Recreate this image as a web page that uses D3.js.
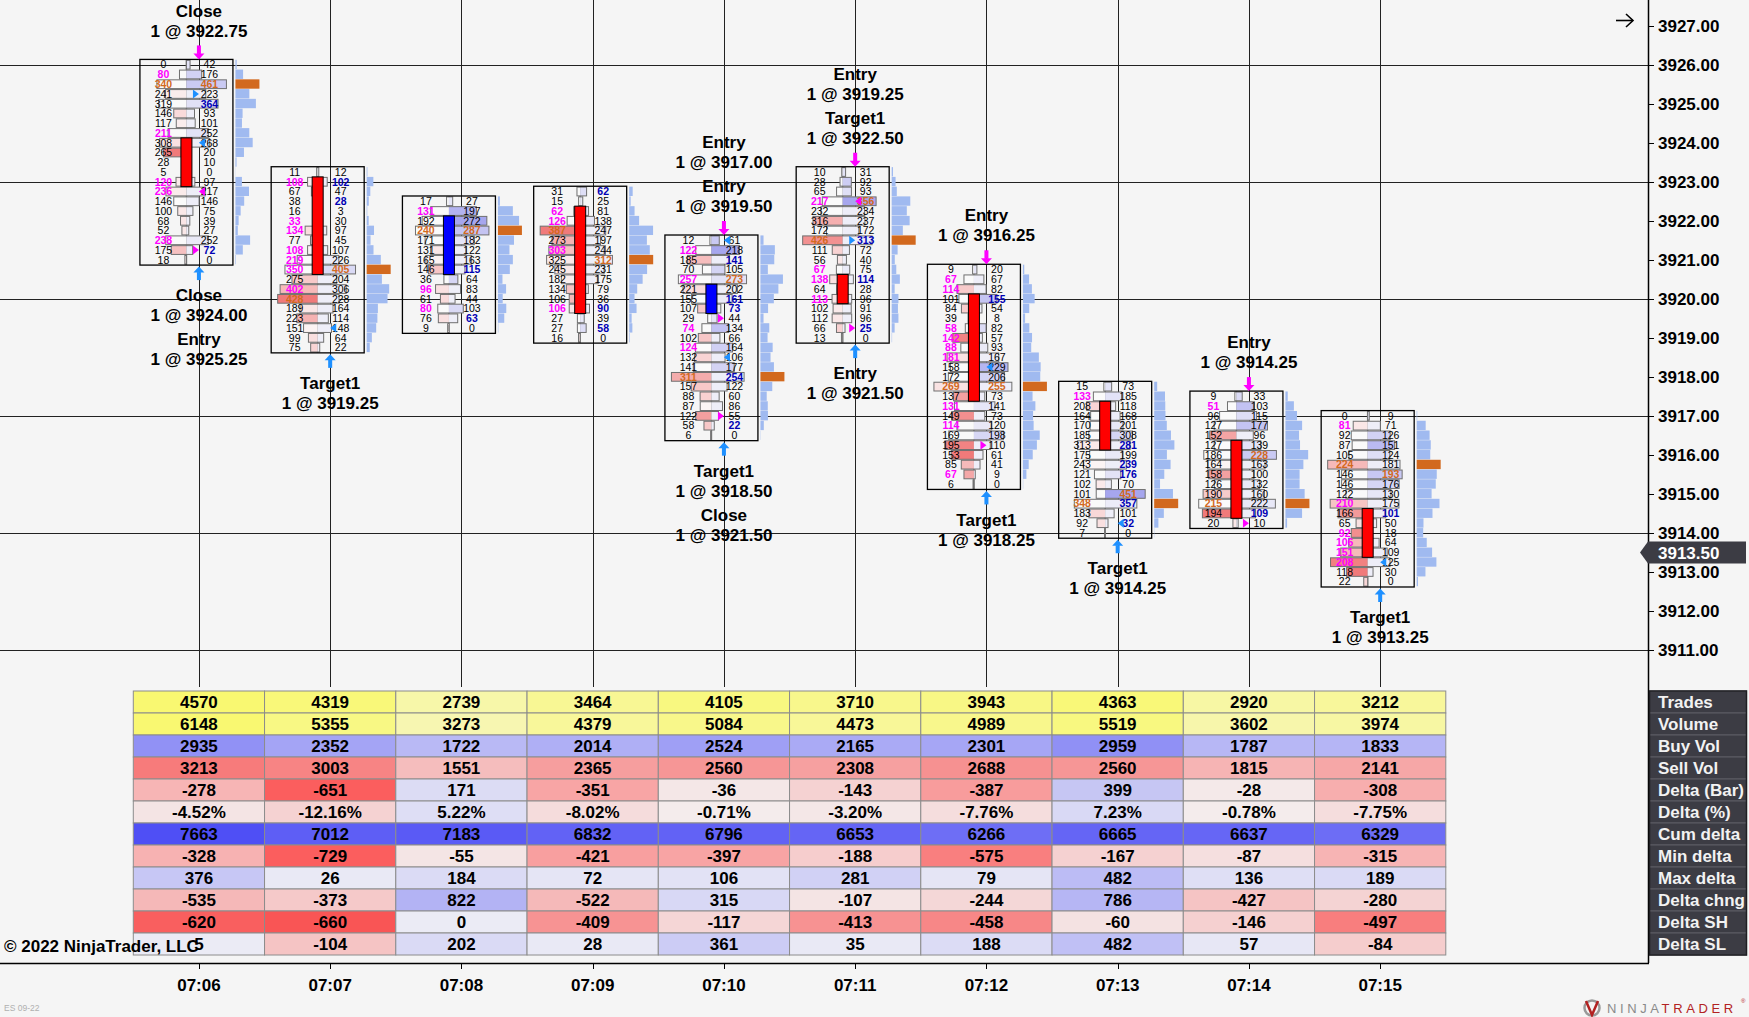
<!DOCTYPE html>
<html>
<head>
<meta charset="utf-8">
<script src="https://cdn.jsdelivr.net/npm/d3@7"></script>
<style>
  body { margin: 0; background: #f5f5f5; }
  svg { display: block; font-family: "Liberation Sans", Arial, sans-serif; }
</style>
</head>
<body>
<svg id="chart" width="1749" height="1017"></svg>
<script>
// ---------------- DATA ----------------
const times  = ["07:06","07:07","07:08","07:09","07:10","07:11","07:12","07:13","07:14","07:15"];
const highs  = [3926.00, 3923.25, 3922.50, 3922.75, 3921.50, 3923.25, 3920.75, 3917.75, 3917.50, 3917.00];
const lows   = [3921.00, 3918.75, 3919.25, 3919.00, 3916.50, 3919.00, 3915.25, 3914.00, 3914.25, 3912.75];
const opens  = [3924.00, 3923.00, 3920.75, 3922.25, 3919.75, 3920.50, 3920.00, 3917.25, 3916.25, 3914.50];
const closes = [3923.00, 3920.75, 3922.00, 3919.75, 3920.25, 3920.00, 3917.50, 3916.25, 3914.50, 3913.50];

// bid / ask volume per price level, from the bar high downwards in 0.25 steps
const bid_0706 = [0,80,340,241,319,146,117,211,308,265,28,5,120,236,146,100,68,52,238,175,18];
const ask_0706 = [42,176,461,223,364,93,101,252,268,20,10,0,97,217,146,75,39,27,252,72,0];
const bid_0707 = [11,108,67,38,16,33,134,77,108,219,350,275,402,428,189,223,151,99,75];
const ask_0707 = [12,102,47,28,3,30,97,45,107,226,405,204,306,228,164,114,148,64,22];
const bid_0708 = [17,131,192,240,171,131,165,146,36,96,61,80,76,9];
const ask_0708 = [27,197,272,287,182,122,163,115,64,83,44,103,63,0];
const bid_0709 = [31,15,62,126,387,273,303,325,245,182,134,106,106,27,27,16];
const ask_0709 = [62,25,81,138,247,197,244,312,231,175,79,36,90,39,58,0];
const bid_0710 = [12,122,185,70,257,221,155,107,29,74,102,124,132,141,311,157,88,87,122,58,6];
const ask_0710 = [61,218,141,105,273,202,161,73,44,134,66,164,106,177,254,122,60,86,55,22,0];
const bid_0711 = [10,28,65,217,232,316,172,426,111,56,67,138,64,113,102,112,66,13];
const ask_0711 = [31,92,93,356,234,237,172,313,72,40,75,114,28,96,91,96,25,0];
const bid_0712 = [9,67,114,101,84,39,58,142,88,181,158,172,269,137,131,149,114,169,195,153,85,67,6];
const ask_0712 = [20,67,82,155,54,8,82,57,93,167,229,206,255,73,141,73,120,198,110,61,41,9,0];
const bid_0713 = [15,133,208,164,170,185,313,175,243,121,102,101,348,183,92,7];
const ask_0713 = [73,185,118,168,201,308,281,199,239,176,70,451,357,101,32,0];
const bid_0714 = [9,51,96,127,152,127,186,164,158,126,190,215,194,20];
const ask_0714 = [33,103,115,177,96,139,228,163,100,132,160,222,109,10];
const bid_0715 = [0,81,92,87,105,224,146,146,122,210,166,65,92,106,151,208,118,22];
const ask_0715 = [9,71,126,151,124,181,193,176,130,175,101,50,18,64,109,125,30,0];

// trade executions
const execTime    = ["07:06","07:06","07:06","07:06","07:07","07:10","07:10","07:10","07:10","07:11","07:11","07:11","07:12","07:12","07:13","07:14","07:15"];
const execPrice   = [3922.75,3921.25,3924.00,3925.25,3919.25,3917.00,3919.50,3918.50,3921.50,3919.25,3922.50,3921.50,3916.25,3918.25,3914.25,3914.25,3913.25];
const execSide    = ["sell","sell","buy","buy","buy","sell","sell","buy","buy","sell","sell","buy","sell","buy","buy","sell","buy"];
const execKind    = ["Close","Entry","Close","Entry","Target1","Entry","Entry","Target1","Close","Entry","Target1","Entry","Entry","Target1","Target1","Entry","Target1"];
const execLabeled = [true,false,true,true,true,true,true,true,true,true,true,true,true,true,true,true,true];

// summary table
const rowNames  = ["Trades","Volume","Buy Vol","Sell Vol","Delta (Bar)","Delta (%)","Cum delta","Min delta","Max delta","Delta chng","Delta SH","Delta SL"];
const trades    = [4570,4319,2739,3464,4105,3710,3943,4363,2920,3212];
const volume    = [6148,5355,3273,4379,5084,4473,4989,5519,3602,3974];
const buyVol    = [2935,2352,1722,2014,2524,2165,2301,2959,1787,1833];
const sellVol   = [3213,3003,1551,2365,2560,2308,2688,2560,1815,2141];
const deltaBar  = [-278,-651,171,-351,-36,-143,-387,399,-28,-308];
const deltaPct  = [-4.52,-12.16,5.22,-8.02,-0.71,-3.20,-7.76,7.23,-0.78,-7.75];
const cumDelta  = [7663,7012,7183,6832,6796,6653,6266,6665,6637,6329];
const minDelta  = [-328,-729,-55,-421,-397,-188,-575,-167,-87,-315];
const maxDelta  = [376,26,184,72,106,281,79,482,136,189];
const deltaChng = [-535,-373,822,-522,315,-107,-244,786,-427,-280];
const deltaSH   = [-620,-660,0,-409,-117,-413,-458,-60,-146,-497];
const deltaSL   = [5,-104,202,28,361,35,188,482,57,-84];

const priceTicks = [3911,3912,3913,3914,3915,3916,3917,3918,3919,3920,3921,3922,3923,3924,3925,3926,3927];
const gridPrices = [3911,3914,3917,3920,3923,3926];
const lastPrice = 3913.50;

// ---------------- LAYOUT ----------------
const W = 1749, H = 1017;
const axisX = 1648, bottomY = 963, tableTop = 691, tRowH = 22;
const tickSize = 0.25;
const svg = d3.select("#chart");

const x = d3.scaleBand().domain(times).range([133.3, 1445.8]).padding(0);
const cxOf = t => x(t) + x.bandwidth() / 2;
const y = d3.scaleLinear().domain([3926, 3911]).range([64.7, 650]);
const rh = y(3926 - tickSize) - y(3926);

const bidLists = [bid_0706,bid_0707,bid_0708,bid_0709,bid_0710,bid_0711,bid_0712,bid_0713,bid_0714,bid_0715];
const askLists = [ask_0706,ask_0707,ask_0708,ask_0709,ask_0710,ask_0711,ask_0712,ask_0713,ask_0714,ask_0715];

const execs = execTime.map((t, i) => ({t, price: execPrice[i], side: execSide[i], kind: execKind[i], labeled: execLabeled[i]}));

svg.append("rect").attr("width", W).attr("height", H).attr("fill", "#f5f5f5");

// grid
svg.append("g").selectAll("line").data(gridPrices).join("line")
  .attr("x1", 0).attr("x2", axisX)
  .attr("y1", d => Math.round(y(d)) + 0.5).attr("y2", d => Math.round(y(d)) + 0.5)
  .attr("stroke", "#222").attr("stroke-width", 1);
svg.append("g").selectAll("line").data(times).join("line")
  .attr("x1", d => Math.round(cxOf(d)) + 0.5).attr("x2", d => Math.round(cxOf(d)) + 0.5)
  .attr("y1", 0).attr("y2", 687)
  .attr("stroke", "#222").attr("stroke-width", 1);

const MAG = "#ff00ff", BUYC = "#1e90ff", ORANGE = "#d2691e", ASKBLUE = "#0000b4";

times.forEach((t, i) => {
  const bids = bidLists[i], asks = askLists[i];
  const n = bids.length;
  const high = highs[i], low = lows[i], open = opens[i], close = closes[i];
  const cx = cxOf(t), cc = cx - 12.5;
  const rows = bids.map((b, k) => ({p: high - k * tickSize, bid: b, ask: asks[k], d: asks[k] - b, tot: b + asks[k], k}));
  const maxSide = d3.max(bids.concat(asks));
  const maxAbsD = d3.max(rows, r => Math.abs(r.d));
  const maxTot = d3.max(rows, r => r.tot);
  const maxBid = d3.max(bids), maxAsk = d3.max(asks);
  const hw = d3.scaleLinear().domain([0, maxSide]).range([0, 40]);
  const pw = d3.scaleLinear().domain([0, maxTot]).range([0, 24]);
  const boxTop = y(high) - rh / 2 - 0.4, boxBot = y(low) + rh / 2 + 0.4;
  const g = svg.append("g");

  // wick
  g.append("line").attr("x1", cc).attr("x2", cc)
    .attr("y1", y(high) - rh / 2).attr("y2", y(low) + rh / 2)
    .attr("stroke", "#777").attr("stroke-width", 1.5);

  const redI = d3.interpolateRgb("#fbf5f5", "#f07a7a");
  const bluI = d3.interpolateRgb("#eeeef8", "#a6a6ee");
  // left (bid) part
  g.selectAll(".lf").data(rows.filter(r => r.bid > 0)).join("rect")
    .attr("x", r => cc - hw(r.bid)).attr("y", r => y(r.p) - rh / 2 + 0.5)
    .attr("width", r => hw(r.bid)).attr("height", rh - 1)
    .attr("fill", r => r.d < 0 ? redI(-r.d / maxAbsD) : "#fafafa");
  // right (ask) part
  g.selectAll(".rt").data(rows.filter(r => r.ask > 0)).join("rect")
    .attr("x", cc).attr("y", r => y(r.p) - rh / 2 + 0.5)
    .attr("width", r => hw(r.ask)).attr("height", rh - 1)
    .attr("fill", r => r.d > 0 ? bluI(r.d / maxAbsD) : "#eeeef8");
  // outline
  g.selectAll(".ol").data(rows.filter(r => r.tot > 0)).join("rect")
    .attr("x", r => cc - hw(r.bid)).attr("y", r => y(r.p) - rh / 2 + 0.5)
    .attr("width", r => hw(r.bid) + hw(r.ask)).attr("height", rh - 1)
    .attr("fill", "none").attr("stroke", "#707070").attr("stroke-width", 1);

  // bar box
  g.append("rect").attr("x", cx - 59).attr("y", boxTop).attr("width", 93).attr("height", boxBot - boxTop)
    .attr("fill", "none").attr("stroke", "#000").attr("stroke-width", 1.3);

  // candle body
  const bTop = y(Math.max(open, close)) - rh / 2, bBot = y(Math.min(open, close)) + rh / 2;
  g.append("rect").attr("x", cc - 5.5).attr("y", bTop).attr("width", 11).attr("height", bBot - bTop)
    .attr("fill", close > open ? "#0000ff" : "#ff0000").attr("stroke", "#000").attr("stroke-width", 1);

  // numbers
  const bidColor = r => {
    if (r.bid === maxBid) return ORANGE;
    if (r.k > 0 && r.bid >= 20 && r.bid >= 1.5 * rows[r.k - 1].ask) return MAG;
    return "#000";
  };
  const askColor = r => {
    if (r.ask === maxAsk) return ORANGE;
    if (r.k < n - 1 && r.ask >= 20 && r.ask >= 1.5 * rows[r.k + 1].bid) return ASKBLUE;
    return "#000";
  };
  g.selectAll(".bt").data(rows).join("text")
    .attr("x", cx - 35.5).attr("y", r => y(r.p)).attr("dy", "0.36em")
    .attr("text-anchor", "middle").attr("font-size", "10.5px")
    .attr("fill", bidColor).attr("font-weight", r => bidColor(r) === "#000" ? "normal" : "bold")
    .text(r => r.bid);
  g.selectAll(".at").data(rows).join("text")
    .attr("x", cx + 10.5).attr("y", r => y(r.p)).attr("dy", "0.36em")
    .attr("text-anchor", "middle").attr("font-size", "10.5px")
    .attr("fill", askColor).attr("font-weight", r => askColor(r) === "#000" ? "normal" : "bold")
    .text(r => r.ask);

  // volume profile
  g.selectAll(".pf").data(rows).join("rect")
    .attr("x", cx + 36.5).attr("y", r => y(r.p) - rh / 2)
    .attr("width", r => pw(r.tot)).attr("height", rh - 0.4)
    .attr("fill", r => r.tot === maxTot ? ORANGE : "#a0baf0");

  // executions: triangles
  const ex = execs.filter(e => e.t === t);
  g.selectAll(".tri").data(ex).join("path")
    .attr("d", e => {
      const yy = y(e.price);
      return e.kind === "Entry"
        ? `M${cx - 6},${yy - 4.5}L${cx},${yy}L${cx - 6},${yy + 4.5}Z`
        : `M${cx + 6},${yy - 4.5}L${cx},${yy}L${cx + 6},${yy + 4.5}Z`;
    })
    .attr("fill", e => e.side === "sell" ? MAG : BUYC);

  const sells = ex.filter(e => e.side === "sell");
  const buys = ex.filter(e => e.side === "buy");
  if (sells.length) {
    g.append("rect").attr("x", cx - 2).attr("y", boxTop - 14).attr("width", 4).attr("height", 8.5).attr("fill", MAG);
    g.append("path").attr("d", `M${cx - 5.5},${boxTop - 6}L${cx + 5.5},${boxTop - 6}L${cx},${boxTop}Z`).attr("fill", MAG);
  }
  if (buys.length) {
    g.append("rect").attr("x", cx - 2).attr("y", boxBot + 7).attr("width", 4).attr("height", 8).attr("fill", BUYC);
    g.append("path").attr("d", `M${cx - 5.5},${boxBot + 7.5}L${cx + 5.5},${boxBot + 7.5}L${cx},${boxBot + 1.5}Z`).attr("fill", BUYC);
  }
  const lab = (txt, yy) => g.append("text").attr("x", cx).attr("y", yy).attr("dy", "0.36em")
    .attr("text-anchor", "middle").attr("font-size", "17px").attr("font-weight", "bold").attr("fill", "#000").text(txt);
  const ls = sells.filter(e => e.labeled);
  ls.forEach((e, j) => {
    const y2 = boxTop - 29 - (ls.length - 1 - j) * 44;
    lab(e.kind, y2 - 20);
    lab(`1 @ ${e.price.toFixed(2)}`, y2);
  });
  const lb = buys.filter(e => e.labeled);
  lb.forEach((e, j) => {
    const y1 = boxBot + 30 + j * 44;
    lab(e.kind, y1);
    lab(`1 @ ${e.price.toFixed(2)}`, y1 + 20);
  });
});

// ---------------- PRICE AXIS ----------------
svg.append("line").attr("x1", axisX + 0.5).attr("x2", axisX + 0.5).attr("y1", 0).attr("y2", bottomY)
  .attr("stroke", "#000").attr("stroke-width", 1.5);
const ay = svg.append("g");
ay.selectAll("line").data(priceTicks).join("line")
  .attr("x1", axisX).attr("x2", axisX + 6)
  .attr("y1", d => Math.round(y(d)) + 0.5).attr("y2", d => Math.round(y(d)) + 0.5)
  .attr("stroke", "#000");
ay.selectAll("text").data(priceTicks).join("text")
  .attr("x", axisX + 10).attr("y", d => y(d)).attr("dy", "0.36em")
  .attr("font-size", "17px").attr("font-weight", "bold").attr("fill", "#000")
  .text(d => d.toFixed(2));

// current price tag
const ly = y(lastPrice);
svg.append("path")
  .attr("d", `M${axisX - 8},${ly}L${axisX},${ly - 11}L1746,${ly - 11}L1746,${ly + 11}L${axisX},${ly + 11}Z`)
  .attr("fill", "#3c3c44");
svg.append("text").attr("x", axisX + 10).attr("y", ly).attr("dy", "0.36em")
  .attr("font-size", "17px").attr("font-weight", "bold").attr("fill", "#ffffff").text(lastPrice.toFixed(2));

// top-right arrow
svg.append("line").attr("x1", 1616).attr("x2", 1633).attr("y1", 20.5).attr("y2", 20.5).attr("stroke", "#000").attr("stroke-width", 1.6);
svg.append("path").attr("d", "M1626,14L1633,20.5L1626,27").attr("fill", "none").attr("stroke", "#000").attr("stroke-width", 1.6);

// ---------------- TABLE ----------------
const tableData = [trades, volume, buyVol, sellVol, deltaBar, deltaPct, cumDelta, minDelta, maxDelta, deltaChng, deltaSH, deltaSL];
const YEL = "#f9f871";
const rowStyle = [
  {mode: "yellow", pos: YEL}, {mode: "yellow", pos: YEL},
  {mode: "div", pos: "#9090f5"}, {mode: "red", neg: "#f77b7b"},
  {mode: "div", neg: "#fb5e5e", pos: "#c6c6f3"}, {mode: "div", neg: "#f5d2d2", pos: "#d9d9f5"},
  {mode: "div", pos: "#4f4ff5"}, {mode: "div", neg: "#fb5e5e", pos: "#c6c6f3"},
  {mode: "div", pos: "#bcbcf5"}, {mode: "div", neg: "#f5b8b8", pos: "#b3b3f4"},
  {mode: "div", neg: "#f95555", pos: "#c6c6f3"}, {mode: "div", neg: "#f5c4c4", pos: "#c0c0f5"}
];
const redBase = "#f4eded", bluBase = "#ebebf5", yelBase = "#f5f5e4";
function cellColor(v, r) {
  const vals = tableData[r], st = rowStyle[r];
  if (st.mode === "yellow") {
    const t = Math.pow(v / d3.max(vals), 1.3);
    return d3.interpolateRgb(yelBase, st.pos)(t);
  }
  if (st.mode === "red") {
    const t = Math.pow(v / d3.max(vals), 1.2);
    return d3.interpolateRgb(redBase, st.neg)(t);
  }
  if (v < 0) {
    const m = d3.max(vals.filter(d => d < 0), d => -d);
    return d3.interpolateRgb(redBase, st.neg)(Math.pow(-v / m, 1.1));
  }
  const pv = vals.filter(d => d > 0);
  if (!pv.length || v === 0) return bluBase;
  return d3.interpolateRgb(bluBase, st.pos)(Math.pow(v / d3.max(pv), 1.1));
}
const fmt = (v, r) => r === 5 ? v.toFixed(2) + "%" : String(v);
const tg = svg.append("g");
tableData.forEach((vals, r) => {
  const cells = vals.map((v, c) => ({v, t: times[c]}));
  tg.append("g").selectAll("rect").data(cells).join("rect")
    .attr("x", d => x(d.t)).attr("y", tableTop + r * tRowH)
    .attr("width", x.bandwidth()).attr("height", tRowH)
    .attr("fill", d => cellColor(d.v, r)).attr("stroke", "#8c8c8c").attr("stroke-width", 1);
  tg.append("g").selectAll("text").data(cells).join("text")
    .attr("x", d => cxOf(d.t)).attr("y", tableTop + r * tRowH + tRowH / 2).attr("dy", "0.36em")
    .attr("text-anchor", "middle").attr("font-size", "17px").attr("font-weight", "bold").attr("fill", "#000")
    .text(d => fmt(d.v, r));
});

// row labels on the right
const lg = svg.append("g");
lg.selectAll("rect").data(rowNames).join("rect")
  .attr("x", 1649.5).attr("y", (d, i) => tableTop + i * tRowH).attr("width", 97).attr("height", tRowH)
  .attr("fill", "#3c3c44").attr("stroke", "#5c5c64").attr("stroke-width", 1);
lg.append("rect").attr("x", 1649.5).attr("y", tableTop).attr("width", 97).attr("height", tRowH * rowNames.length)
  .attr("fill", "none").attr("stroke", "#1e1e22").attr("stroke-width", 1.5);
lg.selectAll("text").data(rowNames).join("text")
  .attr("x", 1658).attr("y", (d, i) => tableTop + i * tRowH + tRowH / 2).attr("dy", "0.36em")
  .attr("font-size", "17px").attr("font-weight", "bold").attr("fill", "#f2f2f2").text(d => d);

// ---------------- TIME AXIS ----------------
svg.append("line").attr("x1", 0).attr("x2", axisX + 1).attr("y1", bottomY + 0.5).attr("y2", bottomY + 0.5)
  .attr("stroke", "#000").attr("stroke-width", 1.5);
const tx = svg.append("g");
tx.selectAll("line").data(times).join("line")
  .attr("x1", d => Math.round(cxOf(d)) + 0.5).attr("x2", d => Math.round(cxOf(d)) + 0.5)
  .attr("y1", bottomY).attr("y2", bottomY + 6).attr("stroke", "#000");
tx.selectAll("text").data(times).join("text")
  .attr("x", d => cxOf(d)).attr("y", 985).attr("dy", "0.36em")
  .attr("text-anchor", "middle").attr("font-size", "17px").attr("font-weight", "bold").attr("fill", "#000")
  .text(d => d);

// ---------------- FOOTER ----------------
svg.append("text").attr("x", 4).attr("y", 946).attr("dy", "0.36em")
  .attr("font-size", "17px").attr("font-weight", "bold").attr("fill", "#000")
  .text("\u00A9 2022 NinjaTrader, LLC");
svg.append("text").attr("x", 4).attr("y", 1008).attr("dy", "0.36em")
  .attr("font-size", "8.5px").attr("fill", "#b0b0b0").text("ES 09-22");

const logo = svg.append("g");
logo.append("circle").attr("cx", 1592).attr("cy", 1008).attr("r", 7.5).attr("fill", "none").attr("stroke", "#999").attr("stroke-width", 2.5);
logo.append("path").attr("d", "M1586,1001 L1592,1015 L1598,1001").attr("fill", "none").attr("stroke", "#b22222").attr("stroke-width", 2.5);
const lt = logo.append("text").attr("x", 1607).attr("y", 1008).attr("dy", "0.36em")
  .attr("font-size", "13px").attr("letter-spacing", "3.6px");
lt.append("tspan").attr("fill", "#8a8a8a").text("NINJA");
lt.append("tspan").attr("fill", "#b22222").text("TRADER");
logo.append("text").attr("x", 1741).attr("y", 1003).attr("font-size", "6px").attr("fill", "#b22222").text("\u00AE");
</script>
</body>
</html>
